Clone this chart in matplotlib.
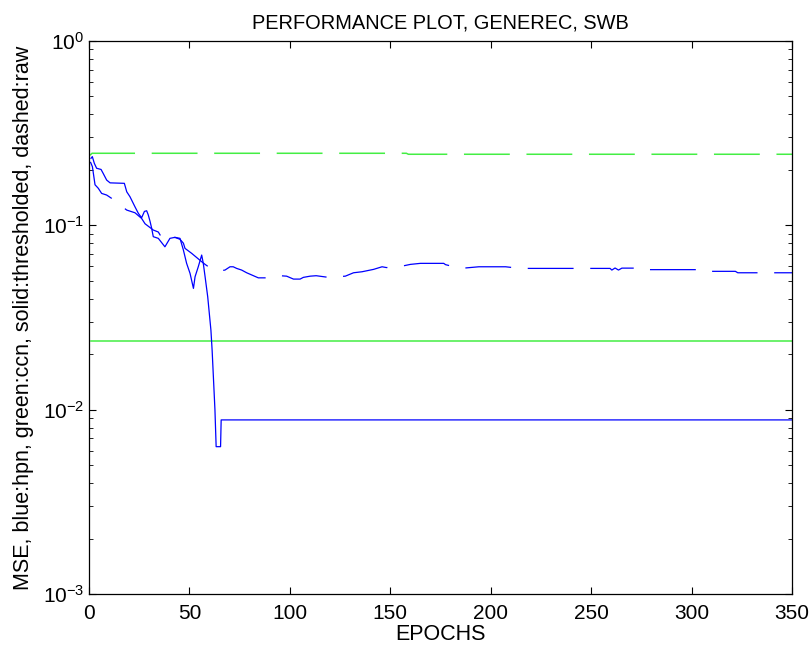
import matplotlib
matplotlib.use("Agg")
import matplotlib.pyplot as plt

plt.rcParams['font.family'] = ['Liberation Sans', 'DejaVu Sans']
plt.rcParams['lines.scale_dashes'] = False

# hpn, raw (dashed)
hpn_raw_epochs = [0.7, 1.7, 3.0, 4.6, 6.3, 8.8, 11.3, 14.0, 17.1, 18.8, 22.9, 26.2, 27.9, 32.0,
                  34.5, 37.0, 40.3, 42.8, 45.3, 47.0, 47.8, 51.1, 56.1, 57.8, 61.0, 64.7, 67.7,
                  70.2, 71.8, 73.5, 76.0, 78.5, 84.3, 91.8, 95.1, 98.4, 101.8, 105.1, 106.7,
                  110.1, 113.1, 121.0, 123.4, 127.6, 131.7, 135.9, 141.7, 145.9, 148.1, 155.9,
                  160.0, 165.0, 176.6, 177.5, 185.0, 194.1, 207.4, 214.6, 259.4, 260.3, 261.9,
                  263.6, 265.3, 272.8, 274.1, 303.5, 305.2, 321.8, 323.0, 350]
hpn_raw_mse = [0.221, 0.208, 0.166, 0.159, 0.149, 0.146, 0.140, 0.132, 0.125, 0.121, 0.117,
               0.109, 0.102, 0.0943, 0.092, 0.083, 0.085, 0.086, 0.084, 0.080, 0.075, 0.0705,
               0.0635, 0.0614, 0.058, 0.0565, 0.0572, 0.0596, 0.0596, 0.0584, 0.0572, 0.0553,
               0.0519, 0.0519, 0.0533, 0.0530, 0.0511, 0.0511, 0.0522, 0.0530, 0.0533, 0.0519,
               0.0526, 0.0530, 0.0553, 0.0560, 0.0577, 0.0596, 0.059, 0.0601, 0.0614, 0.0622,
               0.0622, 0.0612, 0.0584, 0.0596, 0.0596, 0.0584, 0.0584, 0.0572, 0.0587, 0.0572,
               0.0586, 0.0586, 0.0575, 0.0575, 0.0563, 0.0563, 0.0553, 0.0553]

# hpn, thresholded (solid)
hpn_thr_epochs = [1.0, 1.66, 2.65, 3.8, 6.0, 7.1, 8.8, 10.5, 17.6, 18.8, 20.4, 22.9, 24.6, 26.2,
                  27.6, 28.7, 29.5, 30.4, 31.2, 32.0, 34.5, 37.8, 40.3, 42.8, 45.3, 47.0, 48.6,
                  50.3, 52.0, 52.8, 54.4, 56.1, 56.9, 57.8, 59.1, 60.7, 61.3, 62.7, 63.3, 65.5,
                  65.8, 350]
hpn_thr_mse = [0.231, 0.236, 0.217, 0.204, 0.201, 0.191, 0.176, 0.170, 0.169, 0.152, 0.143,
               0.126, 0.116, 0.110, 0.119, 0.120, 0.114, 0.105, 0.0964, 0.0868, 0.0850, 0.0765,
               0.0850, 0.0861, 0.0850, 0.0734, 0.0622, 0.0549, 0.0455, 0.0526, 0.0596, 0.0690,
               0.0622, 0.0526, 0.0410, 0.0270, 0.021, 0.0100, 0.0063, 0.0063, 0.0088, 0.0088]

# ccn, raw (dashed) and thresholded (solid)
ccn_raw_epochs = [0.5, 1.5, 158, 159, 350]
ccn_raw_mse = [0.240, 0.246, 0.246, 0.243, 0.243]
ccn_thr_epochs = [1, 350]
ccn_thr_mse = [0.0237, 0.0237]

blue = '#0000ff'
green = '#44ee44'

fig = plt.figure(figsize=(8.12, 6.55), dpi=100)
ax = fig.add_axes([0.1096, 0.0931, 0.8658, 0.8443])

ax.plot(ccn_raw_epochs, ccn_raw_mse, color=green, lw=1.1, dashes=(33, 12))
ax.plot(hpn_raw_epochs, hpn_raw_mse, color=blue, lw=0.9, dashes=(33, 12))
ax.plot(ccn_thr_epochs, ccn_thr_mse, color=green, lw=1.1)
ax.plot(hpn_thr_epochs, hpn_thr_mse, color=blue, lw=0.9)

ax.set_yscale('log')
ax.set_xlim(0, 350)
ax.set_ylim(1e-3, 1)
ax.set_xticks([0, 50, 100, 150, 200, 250, 300, 350])
ax.tick_params(which='both', direction='in', top=True, right=True, labelsize=15)
ax.tick_params(axis='x', pad=7)
ax.tick_params(which='major', length=5, width=0.8)
ax.tick_params(which='minor', length=3, width=0.6)
for s in ax.spines.values():
    s.set_linewidth(0.9)

ax.set_title('PERFORMANCE PLOT, GENEREC, SWB', fontsize=14.4, pad=9)
ax.set_xlabel('EPOCHS', fontsize=15.5, labelpad=1)
ax.set_ylabel('MSE, blue:hpn, green:ccn, solid:thresholded, dashed:raw', fontsize=15.5, labelpad=6)

fig.savefig('out.png', dpi=100)
